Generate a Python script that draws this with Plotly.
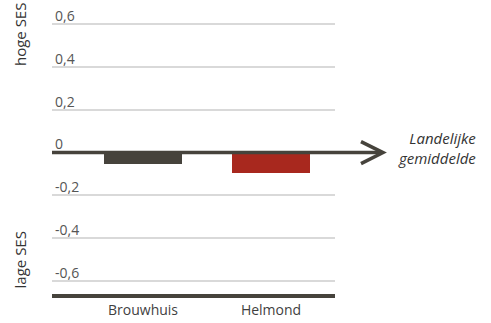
import plotly.graph_objects as go

categories = ["Brouwhuis", "Helmond"]
ses_values = [-0.054, -0.096]
bar_colors = ["#46433c", "#a8281e"]
tick_values = [0.6, 0.4, 0.2, 0, -0.2, -0.4, -0.6]
tick_labels = ["0,6", "0,4", "0,2", "0", "-0,2", "-0,4", "-0,6"]

FONT = "Open Sans"
W, H = 491, 323
L, R = 52, 335
T, B = 0, 294
y_top, y_bot = 0.714, -0.662

fig = go.Figure()
fig.add_trace(go.Bar(
    x=categories, y=ses_values, marker=dict(color=bar_colors, line=dict(width=0)),
    width=0.61, showlegend=False, hoverinfo="skip",
))

tip_paper = (383 - L) / (R - L)
fig.add_shape(type="line", xref="paper", yref="y", x0=0, x1=tip_paper - 0.004, y0=0, y1=0,
              line=dict(color="#46433c", width=3.5), layer="above")
fig.add_shape(type="path", xref="paper", yref="y", xsizemode="pixel", ysizemode="pixel",
              xanchor=tip_paper, yanchor=0,
              path="M -22,11 L 0,0 L -22,-11",
              line=dict(color="#46433c", width=3.5), layer="above")

fig.add_annotation(text="<i>Landelijke<br>gemiddelde</i>", xref="paper", yref="y",
                   x=(478 - L) / (R - L), y=0, xanchor="right", yanchor="middle", yshift=5,
                   align="right", showarrow=False,
                   font=dict(family=FONT, size=15, color="#333333"))
fig.add_annotation(text="hoge SES", xref="paper", yref="y", x=(20 - L) / (R - L), y=0.55,
                   textangle=-90, showarrow=False, xanchor="center", yanchor="middle",
                   font=dict(family=FONT, size=15, color="#333333"))
fig.add_annotation(text="lage SES", xref="paper", yref="y", x=(20 - L) / (R - L), y=-0.505,
                   textangle=-90, showarrow=False, xanchor="center", yanchor="middle",
                   font=dict(family=FONT, size=15, color="#333333"))

fig.update_layout(
    width=W, height=H,
    margin=dict(l=L, r=W - R, t=T, b=H - B, autoexpand=False),
    plot_bgcolor="white", paper_bgcolor="white",
    bargap=0,
    font=dict(family=FONT, size=14, color="#444444"),
    xaxis=dict(type="category", categoryorder="array", categoryarray=categories,
               range=[-0.711, 1.5], showgrid=False, zeroline=False, automargin=False,
               showline=True, linecolor="#46433c", linewidth=4, ticks="",
               tickfont=dict(family=FONT, size=14, color="#3f3f3f")),
    yaxis=dict(range=[y_bot, y_top], tickvals=tick_values, ticktext=tick_labels,
               showgrid=True, gridcolor="#d9d9d9", gridwidth=1.5, zeroline=False,
               showline=False, ticks="", ticklabelposition="inside", automargin=False,
               ticklabelshift=-8, ticklabelstandoff=0,
               tickfont=dict(family=FONT, size=14, color="#555555")),
)

fig.write_html("out.html", config={"displayModeBar": False},
               post_script="document.body.style.margin='0';document.body.style.padding='0';")
